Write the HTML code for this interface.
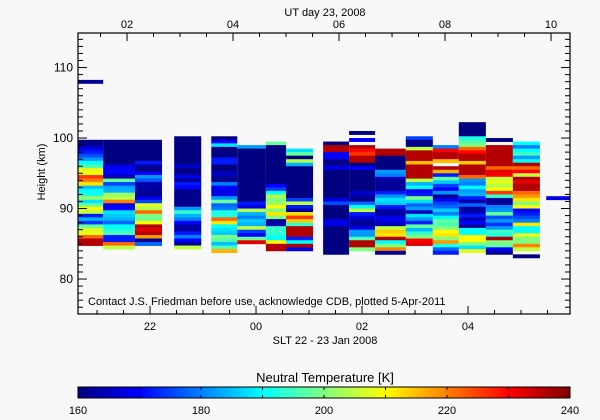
<!DOCTYPE html>
<html><head><meta charset="utf-8"><style>
html,body{margin:0;padding:0;background:#f8f8f8;}
svg{display:block;font-family:"Liberation Sans",sans-serif;}
</style></head><body>
<svg id="chart" width="600" height="420" viewBox="0 0 600 420" xmlns="http://www.w3.org/2000/svg">
<rect width="600" height="420" fill="#f8f8f8"/>
<g id="cells"></g>
<g id="axes"></g>
<text x="325" y="16" text-anchor="middle" font-size="11">UT day 23, 2008</text>
<text x="45" y="172" text-anchor="middle" font-size="11" transform="rotate(-90 45 172)">Height (km)</text>
<text x="88" y="305" font-size="11">Contact J.S. Friedman before use, acknowledge CDB, plotted 5-Apr-2011</text>
<text x="325" y="344" text-anchor="middle" font-size="11">SLT 22 - 23 Jan 2008</text>
<text x="325" y="382" text-anchor="middle" font-size="13">Neutral Temperature [K]</text>
<defs><linearGradient id="jet" x1="0" x2="1" y1="0" y2="0">
<stop offset="0" stop-color="#000080"/><stop offset="0.125" stop-color="#0000ff"/><stop offset="0.375" stop-color="#00ffff"/><stop offset="0.625" stop-color="#ffff00"/><stop offset="0.875" stop-color="#ff0000"/><stop offset="1" stop-color="#800000"/>
</linearGradient></defs>
<rect x="78" y="387" width="492" height="11" fill="url(#jet)" stroke="#000" stroke-width="1"/>
<g id="cbar"></g>
</svg>
<script>
// data
const colStart = [1.08, 1.08, 1.55, 2.15, 2.89, 3.59, 4.08, 4.62, 5.00, 5.70, 6.19, 6.68, 7.26, 7.77, 8.26, 8.77, 9.28, 9.91];
const colEnd   = [1.55, 1.55, 2.15, 2.66, 3.40, 4.08, 4.62, 5.00, 5.51, 6.19, 6.68, 7.26, 7.77, 8.26, 8.77, 9.28, 9.79, 10.36];
const colTop   = [108.25, 99.75, 99.75, 99.75, 100.25, 100.25, 99.0, 99.5, 98.5, 99.5, 101.0, 98.5, 100.25, 99.0, 102.25, 100.0, 99.5, 91.75];
const colTemps = [
 [162],
 [160,162,168,172,176,182,190,196,208,210,226,220,212,185,190,192,202,188,198,210,205,172,184,174,198,207,208,222,236,236],
 [160,160,160,160,160,160,160,168,170,170,163,198,175,183,184,202,204,220,168,170,188,186,184,178,190,192,196,172,172,222,205],
 [160,160,160,160,160,160,172,162,160,170,182,176,163,163,162,162,168,175,208,204,222,200,198,210,236,232,236,218,162,178],
 [160,160,160,160,160,160,160,160,166,160,162,168,162,172,170,161,161,161,161,161,182,194,184,180,170,163,163,172,180,170,162,205],
 [160,170,188,160,160,160,172,172,160,160,166,162,162,180,170,168,168,182,198,178,180,192,192,222,212,190,188,186,200,196,185,196,216],
 [182,160,160,160,160,160,160,160,160,160,160,160,160,160,160,160,172,168,204,184,180,186,184,205,175,170,198,232],
 [198,160,160,160,160,160,160,160,160,160,160,160,170,175,190,204,200,202,210,200,212,200,162,164,194,195,192,190,210,236,236],
 [188,198,160,204,184,160,160,160,160,160,160,160,160,160,175,205,172,162,212,226,214,194,236,236,236,172,190,236,168],
 [160,236,236,170,170,160,162,168,160,160,160,160,160,160,160,160,168,176,160,160,160,160,168,168,160,160,160,160,160,160,160,160],
 [160,null,170,null,236,230,226,236,236,160,170,160,160,160,160,160,160,166,163,160,178,190,205,172,168,162,162,168,182,182,196,236,236,200],
 [236,236,160,160,160,160,182,180,164,162,162,162,172,182,188,186,172,164,162,168,168,164,205,214,212,236,190,200,220,162],
 [175,160,162,205,236,236,236,215,236,236,236,236,204,184,190,170,172,200,188,178,182,165,188,182,172,198,185,194,200,230,232],
 [180,230,236,236,215,null,236,216,172,198,186,175,170,182,162,168,175,178,186,180,190,198,196,200,210,212,200,218,192,178,172],
 [160,160,160,160,192,196,200,222,230,236,236,214,236,236,236,222,182,180,190,182,184,172,163,178,162,164,172,164,170,162,190,190,210,210,200,188,208],
 [160,null,236,236,236,236,236,236,222,232,230,205,208,204,210,226,194,162,162,180,182,198,176,182,174,182,195,192,236,200,198,170,162],
 [190,180,190,195,182,190,236,222,230,205,236,232,236,236,222,218,212,200,210,170,172,176,180,212,190,190,208,200,200,220,205,null,160],
 [168]
];
const yTicks = [80, 90, 100, 110];
const utTicks = [2, 4, 6, 8, 10];
const sltTicks = [22, 24, 26, 28];
const cbTicks = [160, 180, 200, 220, 240];

const X0=78, X1=570, Y0=33, Y1=314;
const UTmin=1.075, UTmax=10.358, Hmin=75.04, Hmax=114.9;
const xs = t => X0 + (t-UTmin)/(UTmax-UTmin)*(X1-X0);
const ys = h => Y1 - (h-Hmin)/(Hmax-Hmin)*(Y1-Y0);
const SLToff = -4.434;
const NS="http://www.w3.org/2000/svg";
function jet(v){
  let f=Math.max(0,Math.min(1,(v-160)/80));
  const c=x=>Math.round(255*Math.max(0,Math.min(1,x)));
  return `rgb(${c(1.5-Math.abs(4*f-3))},${c(1.5-Math.abs(4*f-2))},${c(1.5-Math.abs(4*f-1))})`;
}
function mk(tag,attrs,parent){const e=document.createElementNS(NS,tag);for(const k in attrs)e.setAttribute(k,attrs[k]);parent.appendChild(e);return e;}
const cells=document.getElementById('cells');
colTemps.forEach((vals,ci)=>{
  const xa=xs(colStart[ci]), xb=xs(colEnd[ci]);
  vals.forEach((v,ri)=>{
    if(v===null) return;
    const hTop=colTop[ci]-ri*0.5, hBot=hTop-0.5;
    const r=mk('rect',{x:xa.toFixed(2),y:ys(hTop).toFixed(2),width:(xb-xa).toFixed(2),height:(ys(hBot)-ys(hTop)+0.4).toFixed(2),fill:jet(v)},cells);
    
    
  });
});
const ax=document.getElementById('axes');
const line=(x1,y1,x2,y2)=>mk('line',{x1,y1,x2,y2,stroke:'#000','stroke-width':1},ax);
const box=mk('rect',{x:X0,y:Y0,width:X1-X0,height:Y1-Y0,fill:'none',stroke:'#000','stroke-width':1.2},ax);


// y ticks
for(let h=76;h<=114;h++){
  const y=ys(h), L=(h%10===0)?9:5;
  line(X0,y,X0+L,y); line(X1,y,X1-L,y);
}
yTicks.forEach(h=>{
  const t=mk('text',{x:X0-5,y:ys(h)+4,'text-anchor':'end','font-size':12},ax);t.textContent=h;
  
  
});
// top UT ticks
for(let t=1.5;t<=10.36;t+=0.5){
  const x=xs(t), L=(Math.abs(t%2)<1e-6)?8:4;
  line(x,Y0,x,Y0+L);
}
utTicks.forEach(t=>{
  const e=mk('text',{x:xs(t),y:28,'text-anchor':'middle','font-size':11},ax);e.textContent=String(t).padStart(2,'0');
  
  
});
// bottom SLT ticks
for(let s=21;s<=30;s+=0.5){
  const t=s-SLToff-24; if(t<UTmin||t>UTmax) continue;
  const x=xs(t), L=(Math.abs(s%2)<1e-6)?8:4;
  line(x,Y1,x,Y1-L);
}
sltTicks.forEach(s=>{
  const e=mk('text',{x:xs(s-SLToff-24),y:330,'text-anchor':'middle','font-size':11},ax);e.textContent=String(s%24).padStart(2,'0');
  
  
});
// colorbar ticks
const cb=document.getElementById('cbar');
const cx=v=>78+(v-160)/80*492;
for(let v=170;v<240;v+=10){mk('line',{x1:cx(v),y1:387,x2:cx(v),y2:390,stroke:'#000'},cb);mk('line',{x1:cx(v),y1:398,x2:cx(v),y2:395,stroke:'#000'},cb);}
cbTicks.forEach(v=>{
  const e=mk('text',{x:cx(v),y:414,'text-anchor':'middle','font-size':11},cb);e.textContent=v;
  
  
});
</script>
</body></html>
